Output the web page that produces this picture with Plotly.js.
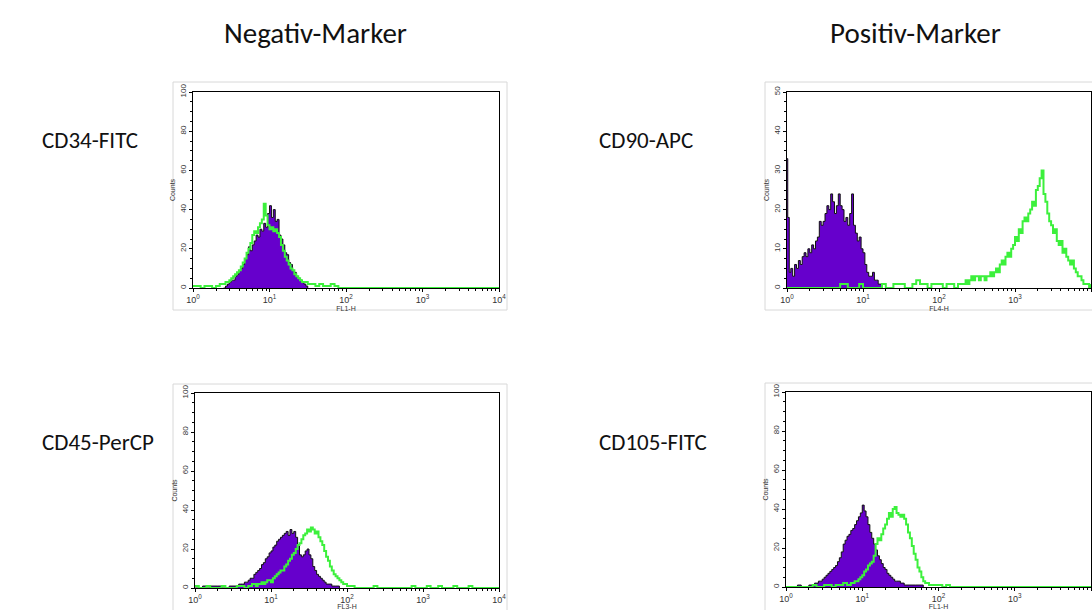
<!DOCTYPE html>
<html>
<head>
<meta charset="utf-8">
<script src="https://cdn.plot.ly/plotly-3.0.1.min.js"></script>
<style>html,body{margin:0;padding:0;background:#fff;}#chart{width:1092px;height:610px;}</style>
</head>
<body>
<div id="chart"></div>
<script>
// ---------- tick labels ----------
var xTickVals = [1, 10, 100, 1000, 10000];
var xTickText = ['10<sup>0</sup>', '10<sup>1</sup>', '10<sup>2</sup>', '10<sup>3</sup>', '10<sup>4</sup>'];
var groupTitles = ['Negativ-Marker', 'Positiv-Marker'];
var markerNames = ['CD34-FITC', 'CD90-APC', 'CD45-PerCP', 'CD105-FITC'];
var channelNames = ['FL1-H', 'FL4-H', 'FL3-H', 'FL1-H'];
var yMax = [100, 50, 100, 100];

// ---------- data (x = log10 fluorescence, y = counts) ----------
// CD34-FITC
var p1PurpleX = [0.400,0.425,0.450,0.475,0.500,0.525,0.550,0.575,0.600,0.625,0.650,0.675,0.700,0.725,0.750,0.775,0.800,0.825,0.850,0.875,0.900,0.925,0.950,0.975,1.000,1.025,1.050,1.075,1.100,1.125,1.150,1.175,1.200,1.225,1.250,1.275,1.300,1.325,1.350,1.375,1.400,1.425,1.450,1.475,1.500];
var p1PurpleY = [0,1,2,3,4,4,6,7,9,10,12,15,17,21,19,22,24,27,26,30,29,33,31,38,42,36,40,34,35,27,25,22,18,17,13,12,9,8,6,5,4,3,2,1,0];
var p1GreenX = [0.00,0.05,0.10,0.15,0.20,0.25,0.30,0.35,0.40,0.425,0.450,0.475,0.500,0.525,0.550,0.575,0.600,0.625,0.650,0.675,0.700,0.725,0.750,0.775,0.800,0.825,0.850,0.875,0.900,0.925,0.950,0.975,1.000,1.025,1.050,1.075,1.100,1.125,1.150,1.175,1.200,1.225,1.250,1.275,1.300,1.325,1.350,1.375,1.400,1.425,1.450,1.50,1.55,1.60,1.65,1.70,1.75,1.80,1.85,1.90,4.00];
var p1GreenY = [1,1,0,1,1,0,1,2,2,3,3,4,5,6,7,8,9,11,13,15,18,20,23,27,29,28,31,33,35,43,37,32,30,31,29,30,28,26,22,19,16,14,12,10,9,7,6,5,4,3,3,2,2,1,2,1,1,2,1,0,0];

// CD90-APC
var p2PurpleX = [0.000,0.010,0.030,0.050,0.075,0.100,0.125,0.150,0.175,0.200,0.225,0.250,0.275,0.300,0.325,0.350,0.375,0.400,0.425,0.450,0.475,0.500,0.525,0.550,0.575,0.600,0.625,0.650,0.675,0.700,0.725,0.750,0.775,0.800,0.825,0.850,0.875,0.900,0.925,0.950,0.975,1.000,1.025,1.050,1.075,1.100,1.125,1.150,1.175,1.200,1.225,1.250];
var p2PurpleY = [33,18,4,5,3,6,5,7,6,8,9,8,10,9,11,10,12,13,17,16,17,19,21,20,24,22,19,21,24,21,20,17,18,16,19,24,16,14,12,13,10,9,6,4,3,3,4,2,2,1,1,0];
var p2GreenX = [0.00,0.50,0.70,0.80,0.95,1.00,1.20,1.25,1.30,1.40,1.50,1.55,1.65,1.70,1.75,1.80,1.85,1.90,2.00,2.05,2.10,2.20,2.25,2.30,2.350,2.375,2.400,2.425,2.450,2.475,2.500,2.525,2.550,2.575,2.600,2.625,2.650,2.675,2.700,2.725,2.750,2.775,2.800,2.825,2.850,2.875,2.900,2.925,2.950,2.975,3.000,3.025,3.050,3.075,3.100,3.125,3.150,3.175,3.200,3.225,3.250,3.275,3.300,3.325,3.350,3.375,3.400,3.425,3.450,3.475,3.500,3.525,3.550,3.575,3.600,3.625,3.650,3.675,3.700,3.725,3.750,3.775,3.800,3.825,3.850,3.875,3.900,3.925,3.950,3.975,4.000];
var p2GreenY = [0,0,1,0,1,0,0,1,0,1,1,0,1,2,1,1,0,1,1,0,1,0,1,1,2,1,2,3,2,3,3,2,3,3,2,3,3,4,3,4,5,4,6,7,6,8,9,8,10,11,13,12,15,14,17,18,17,19,20,22,21,25,26,28,30,24,22,19,17,16,14,15,12,11,12,9,10,8,7,6,7,5,4,3,3,2,1,1,1,0,1];

// CD45-PerCP
var p3PurpleX = [0.00,0.10,0.15,0.20,0.30,0.35,0.45,0.50,0.550,0.575,0.600,0.625,0.650,0.675,0.700,0.725,0.750,0.775,0.800,0.825,0.850,0.875,0.900,0.925,0.950,0.975,1.000,1.025,1.050,1.075,1.100,1.125,1.150,1.175,1.200,1.225,1.250,1.275,1.300,1.325,1.350,1.375,1.400,1.425,1.450,1.475,1.500,1.525,1.550,1.575,1.600,1.625,1.650,1.675,1.700,1.725,1.750,1.80,1.85,1.90];
var p3PurpleY = [0,1,0,1,1,0,1,1,1,2,2,2,3,3,4,5,5,7,8,9,10,12,13,15,16,18,19,21,22,24,25,26,27,28,29,27,30,28,29,26,22,17,16,17,19,20,17,15,11,9,7,6,5,4,3,2,2,1,1,0];
var p3GreenX = [0.00,0.05,0.15,0.20,0.35,0.40,0.55,0.60,0.65,0.70,0.75,0.80,0.825,0.850,0.875,0.900,0.925,0.950,0.975,1.000,1.025,1.050,1.075,1.100,1.125,1.150,1.175,1.200,1.225,1.250,1.275,1.300,1.325,1.350,1.375,1.400,1.425,1.450,1.475,1.500,1.525,1.550,1.575,1.600,1.625,1.650,1.675,1.700,1.725,1.750,1.775,1.800,1.825,1.850,1.875,1.900,1.925,1.950,1.975,2.00,2.05,2.10,2.30,2.35,2.40,2.80,2.85,2.90,3.00,3.05,3.10,3.20,3.25,3.40,3.45,3.60,3.65,4.00];
var p3GreenY = [1,0,1,0,1,0,1,1,0,1,2,1,2,2,3,2,3,4,4,3,5,6,7,8,9,9,11,12,14,15,17,18,20,22,23,25,27,28,30,29,31,30,28,29,26,24,22,19,16,14,11,9,7,6,5,4,3,2,2,1,1,0,0,1,0,0,1,0,0,1,0,1,0,1,0,1,0,0];

// CD105-FITC
var p4PurpleX = [0.00,0.15,0.20,0.30,0.350,0.375,0.400,0.425,0.450,0.475,0.500,0.525,0.550,0.575,0.600,0.625,0.650,0.675,0.700,0.725,0.750,0.775,0.800,0.825,0.850,0.875,0.900,0.925,0.950,0.975,1.000,1.025,1.050,1.075,1.100,1.125,1.150,1.175,1.200,1.225,1.250,1.275,1.300,1.325,1.350,1.375,1.400,1.425,1.450,1.50,1.55,1.60,1.70,1.80];
var p4PurpleY = [0,1,0,1,1,2,2,3,3,4,5,6,7,8,9,10,11,13,15,18,22,24,26,27,29,30,32,34,36,38,42,39,36,32,28,25,22,19,16,14,12,10,9,7,6,5,4,3,3,2,1,1,1,0];
var p4GreenX = [0.00,0.30,0.35,0.40,0.50,0.55,0.60,0.65,0.70,0.75,0.80,0.850,0.875,0.900,0.925,0.950,0.975,1.000,1.025,1.050,1.075,1.100,1.125,1.150,1.175,1.200,1.225,1.250,1.275,1.300,1.325,1.350,1.375,1.400,1.425,1.450,1.475,1.500,1.525,1.550,1.575,1.600,1.625,1.650,1.675,1.700,1.725,1.750,1.775,1.800,1.825,1.850,1.875,1.900,1.95,2.00,2.05,2.10,2.15,4.00];
var p4GreenY = [0,0,1,0,1,1,0,1,1,2,1,2,2,3,3,4,5,6,8,9,11,12,13,16,22,25,24,27,30,32,35,38,36,40,41,38,37,36,37,35,32,28,25,21,17,14,10,8,5,3,2,2,1,1,1,1,0,1,0,0];

// ---------- build ----------
var PURPLE = '#6600cc';
var GREEN = '#3cf03c';
function lin(arr) { return arr.map(function (d) { return Math.pow(10, d); }); }

var panels = [
  {px: p1PurpleX, py: p1PurpleY, gx: p1GreenX, gy: p1GreenY},
  {px: p2PurpleX, py: p2PurpleY, gx: p2GreenX, gy: p2GreenY},
  {px: p3PurpleX, py: p3PurpleY, gx: p3GreenX, gy: p3GreenY},
  {px: p4PurpleX, py: p4PurpleY, gx: p4GreenX, gy: p4GreenY}
];

// pixel boxes of the four plot areas [left, right, top, bottom]
var boxes = [[193, 499, 92, 288], [787, 1091, 92, 288], [195, 499, 393, 588], [786, 1091, 392, 587]];
var W = 1092, H = 610;

var minorX = [];
for (var k = 0; k < 4; k++) for (var m = 2; m <= 9; m++) minorX.push(m * Math.pow(10, k));

var data = [];
var layout = {
  width: W, height: H, margin: {l: 0, r: 0, t: 0, b: 0},
  paper_bgcolor: '#fff', plot_bgcolor: '#fff', showlegend: false,
  font: {family: 'Arial, Liberation Sans, sans-serif', color: '#222'},
  annotations: [], shapes: []
};

panels.forEach(function (p, i) {
  var n = i + 1;
  var xa = 'x' + (n === 1 ? '' : n), ya = 'y' + (n === 1 ? '' : n);
  data.push({x: lin(p.px), y: p.py, xaxis: xa, yaxis: ya, type: 'scatter', mode: 'lines',
    line: {shape: 'hv', color: '#111', width: 1}, fill: 'tozeroy', fillcolor: PURPLE, hoverinfo: 'skip'});
  data.push({x: lin(p.gx), y: p.gy, xaxis: xa, yaxis: ya, type: 'scatter', mode: 'lines',
    line: {shape: 'hv', color: GREEN, width: 2}, hoverinfo: 'skip'});
  var b = boxes[i];
  layout['xaxis' + (n === 1 ? '' : n)] = {
    type: 'log', range: [0, 4], domain: [b[0] / W, b[1] / W], anchor: ya,
    showline: true, mirror: true, linecolor: '#000', linewidth: 1,
    ticks: 'outside', ticklen: 3, tickcolor: '#000', tickwidth: 1,
    tickmode: 'array', tickvals: xTickVals, ticktext: xTickText,
    tickfont: {size: 9, color: '#333'},
    minor: {tickmode: 'array', tickvals: minorX, ticks: 'outside', ticklen: 2, tickcolor: '#000', showgrid: false},
    showgrid: false, zeroline: false, fixedrange: true, automargin: false,
    title: {text: channelNames[i], font: {size: 7, color: '#333'}, standoff: 0}
  };
  layout['yaxis' + (n === 1 ? '' : n)] = {
    range: [0, yMax[i]], domain: [1 - b[3] / H, 1 - b[2] / H], anchor: xa,
    showline: true, mirror: true, linecolor: '#000', linewidth: 1,
    ticks: 'outside', ticklen: 3, tickcolor: '#000', dtick: yMax[i] / 5, tickangle: -90,
    tickfont: {size: 8, color: '#333'},
    minor: {dtick: yMax[i] / 20, ticks: 'outside', ticklen: 2, tickcolor: '#000', showgrid: false},
    showgrid: false, zeroline: false, fixedrange: true, automargin: false,
    title: {text: 'Counts', font: {size: 7, color: '#333'}, standoff: 2}
  };
});

// light frames around each pasted histogram
var frames = [[173, 507, 82, 310], [765, 1100, 82, 310], [173, 507, 384, 620], [765, 1100, 383, 620]];
frames.forEach(function (f) {
  layout.shapes.push({type: 'rect', xref: 'paper', yref: 'paper', x0: f[0] / W, x1: f[1] / W,
    y0: 1 - f[3] / H, y1: 1 - f[2] / H, line: {color: '#d8d8d8', width: 1}, fillcolor: 'rgba(0,0,0,0)', layer: 'below'});
});

var TXT = 'Calibri, Carlito, Lato, sans-serif';
var titlePos = [[315, 33], [915, 33]];
groupTitles.forEach(function (t, i) {
  layout.annotations.push({text: t, xref: 'paper', yref: 'paper', x: titlePos[i][0] / W, y: 1 - titlePos[i][1] / H,
    xanchor: 'center', yanchor: 'middle', showarrow: false, font: {family: TXT, size: 29, color: '#111'}});
});
var labelPos = [[40, 140], [597, 140], [40, 442], [597, 442]];
markerNames.forEach(function (t, i) {
  layout.annotations.push({text: t, xref: 'paper', yref: 'paper', x: labelPos[i][0] / W, y: 1 - labelPos[i][1] / H,
    xanchor: 'left', yanchor: 'middle', showarrow: false, font: {family: TXT, size: 23, color: '#111'}});
});

Plotly.newPlot('chart', data, layout, {staticPlot: true, displayModeBar: false});
</script>
</body>
</html>
